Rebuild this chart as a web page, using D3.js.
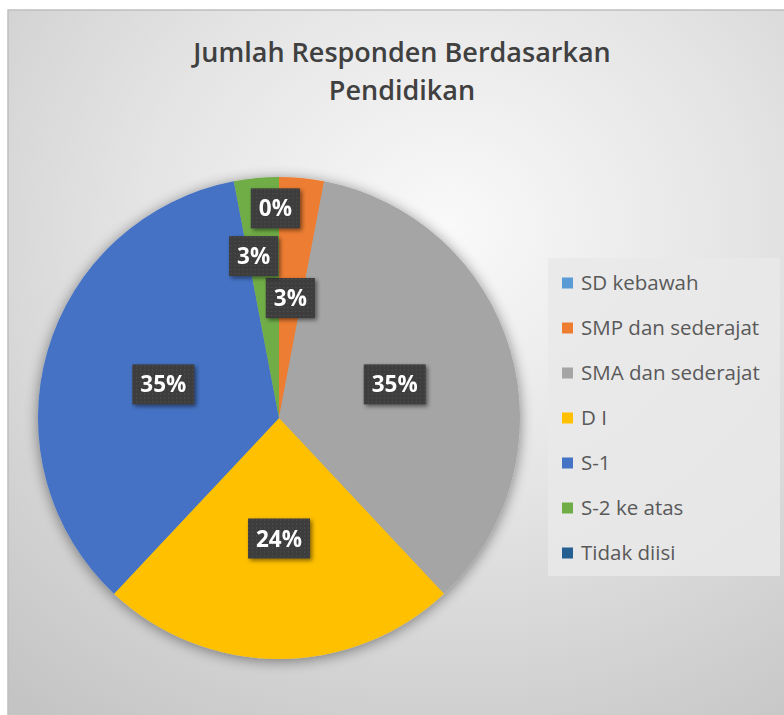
<!DOCTYPE html>
<html>
<head>
<meta charset="utf-8">
<script src="https://cdn.jsdelivr.net/npm/d3@7"></script>
<style>
  body { margin: 0; background: #fff; }
  svg { display: block; }
</style>
</head>
<body>
<svg id="chart"></svg>
<script>
// data (percent of respondents)
const categories = ["SD kebawah", "SMP dan sederajat", "SMA dan sederajat", "D I", "S-1", "S-2 ke atas", "Tidak diisi"];
const values = [0, 3, 35, 24, 35, 3, 0];
const colors = ["#5B9BD5", "#ED7D31", "#A5A5A5", "#FFC000", "#4472C4", "#70AD47", "#255E91"];
const titleLines = ["Jumlah Responden Berdasarkan", "Pendidikan"];

const data = categories.map((c, i) => ({category: c, value: values[i], color: colors[i]}));

const width = 784, height = 715;
const cx = 279, cy = 418, radius = 241;

const svg = d3.select("#chart")
    .attr("width", width)
    .attr("height", height);

const defs = svg.append("defs");

// background gradient of the chart area
const bg = defs.append("radialGradient")
    .attr("id", "bgGrad")
    .attr("cx", "0.55").attr("cy", "0.3").attr("r", "0.85");
bg.append("stop").attr("offset", "0").attr("stop-color", "#f9f9f9");
bg.append("stop").attr("offset", "0.45").attr("stop-color", "#e4e4e4");
bg.append("stop").attr("offset", "1").attr("stop-color", "#c4c4c4");

// soft shadow round the pie
const sh = defs.append("filter").attr("id", "pieShadow")
    .attr("x", "-20%").attr("y", "-20%").attr("width", "140%").attr("height", "140%");
sh.append("feGaussianBlur").attr("in", "SourceAlpha").attr("stdDeviation", 7).attr("result", "b");
sh.append("feOffset").attr("in", "b").attr("dx", 0).attr("dy", 2).attr("result", "o");
sh.append("feComponentTransfer").attr("in", "o").attr("result", "s")
  .append("feFuncA").attr("type", "linear").attr("slope", 0.45);
const shm = sh.append("feMerge");
shm.append("feMergeNode").attr("in", "s");
shm.append("feMergeNode").attr("in", "SourceGraphic");

const lsh = defs.append("filter").attr("id", "lblShadow")
    .attr("x", "-30%").attr("y", "-30%").attr("width", "160%").attr("height", "160%");
lsh.append("feGaussianBlur").attr("in", "SourceAlpha").attr("stdDeviation", 2).attr("result", "b");
lsh.append("feOffset").attr("in", "b").attr("dx", 2).attr("dy", 2).attr("result", "o");
lsh.append("feComponentTransfer").attr("in", "o").attr("result", "s")
  .append("feFuncA").attr("type", "linear").attr("slope", 0.5);
const lshm = lsh.append("feMerge");
lshm.append("feMergeNode").attr("in", "s");
lshm.append("feMergeNode").attr("in", "SourceGraphic");

// dotted texture of the label boxes
const pat = defs.append("pattern").attr("id", "dots")
    .attr("width", 4).attr("height", 4).attr("patternUnits", "userSpaceOnUse");
pat.append("rect").attr("width", 4).attr("height", 4).attr("fill", "#3c3c3c");
pat.append("rect").attr("x", 1).attr("y", 1).attr("width", 1).attr("height", 1).attr("fill", "#585858");

// chart area
svg.append("rect")
    .attr("x", 8).attr("y", 10)
    .attr("width", 800).attr("height", 720)
    .attr("fill", "url(#bgGrad)")
    .attr("stroke", "#bfbfbf")
    .attr("stroke-width", 1.5);

// title
svg.append("text")
    .attr("x", 402)
    .attr("y", 62)
    .attr("text-anchor", "middle")
    .attr("font-family", "'Open Sans', sans-serif")
    .attr("font-weight", 600)
    .attr("font-size", "27px")
    .attr("fill", "#404040")
    .selectAll("tspan")
    .data(titleLines)
    .join("tspan")
    .attr("x", 402)
    .attr("dy", (d, i) => i === 0 ? 0 : 38)
    .text(d => d);

// pie
const pie = d3.pie().sort(null).value(d => d.value);
const arcs = pie(data);
const arc = d3.arc().innerRadius(0).outerRadius(radius);

const pieG = svg.append("g")
    .attr("transform", `translate(${cx},${cy})`);

pieG.append("g")
    .attr("filter", "url(#pieShadow)")
    .selectAll("path")
    .data(arcs)
    .join("path")
    .attr("d", arc)
    .attr("fill", d => d.data.color);

// label placement: Excel pushes the thin slices' labels apart
const labelPlace = {
  "SD kebawah": {k: 0.87, da: -1},
  "S-2 ke atas": {k: 0.68, da: -3.5},
  "Tidak diisi": null
};

const lblG = pieG.append("g");
arcs.forEach(d => {
  const place = labelPlace[d.data.category];
  if (place === null) return;
  const k = place ? place.k : 0.5;
  const da = place ? place.da * Math.PI / 180 : 0;
  const a = (d.startAngle + d.endAngle) / 2 + da;
  const x = Math.sin(a) * radius * k;
  const y = -Math.cos(a) * radius * k;

  const g = lblG.append("g")
      .attr("transform", `translate(${x},${y})`)
      .attr("filter", "url(#lblShadow)");
  const box = g.append("rect").attr("fill", "url(#dots)");
  const t = g.append("text")
      .attr("text-anchor", "middle")
      .attr("dy", "0.36em")
      .attr("font-family", "'Open Sans', sans-serif")
      .attr("font-weight", 700)
      .attr("font-size", "22.5px")
      .attr("fill", "#ffffff")
      .text(d3.format(".0%")(d.data.value / d3.sum(values)));
  const bb = t.node().getBBox();
  box.attr("x", -bb.width / 2 - 8)
     .attr("y", -20)
     .attr("width", bb.width + 16)
     .attr("height", 40);
});

// legend
const legY = d3.scalePoint()
    .domain(categories)
    .range([283, 553]);

svg.append("rect")
    .attr("x", 548).attr("y", 258)
    .attr("width", 232).attr("height", 318)
    .attr("fill", "#e9e9e9")
    .attr("fill-opacity", 0.85);

const leg = svg.append("g")
    .selectAll("g")
    .data(data)
    .join("g")
    .attr("transform", d => `translate(562,${legY(d.category)})`);

leg.append("rect")
    .attr("x", 0).attr("y", -5.5)
    .attr("width", 11).attr("height", 11)
    .attr("fill", d => d.color);

leg.append("text")
    .attr("x", 19)
    .attr("dy", "0.36em")
    .attr("font-family", "'Open Sans', sans-serif")
    .attr("font-size", "20.5px")
    .attr("fill", "#595959")
    .text(d => d.category);
</script>
</body>
</html>
